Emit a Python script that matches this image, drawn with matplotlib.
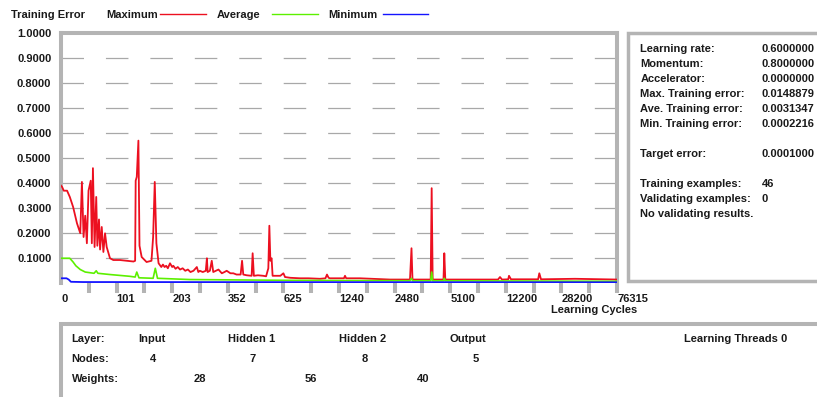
import numpy as np
import matplotlib
matplotlib.use("Agg")
import matplotlib.pyplot as plt
from matplotlib.lines import Line2D
from matplotlib.patches import Rectangle

# ---------------- data ----------------
tick_cycles = [0, 101, 203, 352, 625, 1240, 2480, 5100, 12200, 28200, 76315]
tick_labels = ["0", "101", "203", "352", "625", "1240", "2480", "5100", "12200", "28200", "76315"]

max_cycles = [0, 2, 5, 11, 16, 22, 29, 35, 38, 41, 44, 47, 50, 51, 54, 56, 58, 61, 64, 66,
              69, 71, 74, 77, 80, 83, 89, 95, 107, 120, 132, 135, 136, 138, 141, 143, 147,
              156, 165, 168, 171, 174, 178, 183, 186, 189, 192, 195, 199, 203, 206, 212,
              218, 224, 231, 238, 245, 252, 260, 269, 273, 277, 285,
              293, 296, 298, 304, 309, 313, 320, 327, 336, 343, 349, 365, 379, 395, 415, 422,
              428, 445, 469, 474, 480, 500, 526, 540, 551, 556, 561, 567, 572, 592, 610, 625,
              643, 700, 809, 900, 1030, 1090, 1107, 1125, 1140, 1250, 1350, 1374, 1400, 1441,
              1708, 2000, 2377, 3205, 3276, 3323, 4180, 4227, 4274, 4784, 4822, 4869,
              7628, 11200, 11460, 11716, 12900, 13121, 13697, 21500, 21842, 22331, 40000,
              76315]
max_error = [0.39, 0.385, 0.37, 0.37, 0.345, 0.305, 0.24, 0.20, 0.405, 0.185, 0.27, 0.16,
             0.37, 0.38, 0.41, 0.16, 0.46, 0.145, 0.345, 0.15, 0.255, 0.135, 0.225, 0.125,
             0.20, 0.145, 0.10, 0.093, 0.093, 0.09, 0.087, 0.09, 0.41, 0.425, 0.57, 0.15,
             0.105, 0.085, 0.09, 0.185, 0.405, 0.16, 0.08, 0.065, 0.075, 0.065, 0.07, 0.06,
             0.08, 0.065, 0.07, 0.058, 0.065, 0.055, 0.06, 0.05, 0.055, 0.045, 0.05, 0.065,
             0.045, 0.05, 0.045,
             0.05, 0.10, 0.045, 0.05, 0.09, 0.045, 0.05, 0.055, 0.04, 0.045, 0.05, 0.04,
             0.04, 0.035, 0.035, 0.09, 0.035, 0.032, 0.03, 0.12, 0.03, 0.032, 0.03, 0.028,
             0.06, 0.23, 0.09, 0.10, 0.03, 0.03, 0.03, 0.04, 0.025, 0.022, 0.02, 0.02,
             0.018, 0.02, 0.035, 0.022, 0.02, 0.02, 0.02, 0.03, 0.02, 0.02, 0.02, 0.018,
             0.015, 0.015, 0.14, 0.015, 0.015, 0.38, 0.015, 0.015, 0.12, 0.015, 0.015,
             0.015, 0.025, 0.015, 0.016, 0.03, 0.016, 0.016, 0.04, 0.016, 0.018, 0.015]

avg_cycles = [0, 16, 22, 27, 35, 44, 60, 64, 67, 89, 125, 135, 138, 142, 168, 172, 176,
              250, 625, 3200, 3276, 3330, 4180, 4227, 4274, 4800, 4822, 4870, 76315]
avg_error = [0.10, 0.10, 0.085, 0.07, 0.055, 0.045, 0.04, 0.05, 0.04, 0.035, 0.028, 0.025,
             0.045, 0.022, 0.02, 0.06, 0.02, 0.015, 0.012, 0.01, 0.02, 0.01, 0.01, 0.045,
             0.01, 0.01, 0.02, 0.01, 0.008]

min_cycles = [0, 10, 14, 18, 40, 76315]
min_error = [0.02, 0.02, 0.015, 0.006, 0.005, 0.004]

y_ticks = [0.1, 0.2, 0.3, 0.4, 0.5, 0.6, 0.7, 0.8, 0.9, 1.0]

params_labels = ["Learning rate:", "Momentum:", "Accelerator:", "Max. Training error:",
                 "Ave. Training error:", "Min. Training error:", "Target error:",
                 "Training examples:", "Validating examples:", "No validating results."]
params_values = ["0.6000000", "0.8000000", "0.0000000", "0.0148879", "0.0031347",
                 "0.0002216", "0.0001000", "46", "0", ""]

layer_names = ["Input", "Hidden 1", "Hidden 2", "Output"]
layer_nodes = ["4", "7", "8", "5"]
layer_weights = ["28", "56", "40"]

# ---------------- style ----------------
plt.rcParams['font.family'] = ['Liberation Sans', 'DejaVu Sans']
plt.rcParams['font.weight'] = 'bold'
plt.rcParams['lines.scale_dashes'] = False
W, H = 817, 397
GRAY = '#b4b4b4'
TXT = '#1a1a1a'
FS = 8
RED, GREEN, BLUE = '#ec1020', '#5cf000', '#1414ff'

fig = plt.figure(figsize=(W / 100, H / 100), dpi=100)
fig.patch.set_facecolor('white')

def fx(px):
    return px / W

def fy(py):
    return 1 - py / H

def label(px, py_base, s):
    fig.text(fx(px), fy(py_base), s, ha='left', va='baseline', fontsize=FS, color=TXT)

idx = np.arange(len(tick_cycles), dtype=float)

def fwd(x):
    return np.interp(x, tick_cycles, idx)

def inv(s):
    return np.interp(s, idx, tick_cycles)

ax = fig.add_axes([fx(61), fy(283.3), fx(617) - fx(61), fy(33) - fy(283.3)])
ax.set_xscale('function', functions=(fwd, inv))
ax.set_xlim(0, 76315)
ax.set_ylim(0, 1)

ax.plot(max_cycles, max_error, color=RED, lw=1.3, zorder=3)
ax.plot(avg_cycles, avg_error, color=GREEN, lw=1.2, zorder=4)
ax.plot(min_cycles, min_error, color=BLUE, lw=1.3, zorder=5)

# frame
for s in ['top', 'left', 'right']:
    ax.spines[s].set_color(GRAY)
    ax.spines[s].set_linewidth(2.9)
    ax.spines[s].set_capstyle('projecting')
ax.spines['bottom'].set_visible(False)

# y axis
ax.set_yticks(y_ticks)
ax.set_yticklabels([f"{v:.4f}" for v in y_ticks])
ax.tick_params(axis='y', length=0, pad=7, labelsize=FS, labelcolor=TXT)
ax.grid(axis='y', color='#a8a8a8', lw=0.9, linestyle=(0, (16.2, 15.8)))
ax.set_axisbelow(True)

# x axis
ax.xaxis.remove_overlapping_locs = False
ax.set_xticks(tick_cycles)
ax.set_xticklabels(tick_labels)
for lab in ax.get_xticklabels():
    lab.set_horizontalalignment('left')
half = inv(np.arange(0.5, 10.01, 0.5))
ax.set_xticks(half, minor=True)
ax.tick_params(axis='x', which='major', length=0, pad=8, labelsize=FS, labelcolor=TXT)
ax.tick_params(axis='x', which='minor', length=7.5, width=2.9, color=GRAY, direction='out')

fig.text(fx(637), fy(313), "Learning Cycles", ha='right', va='baseline', fontsize=FS, color=TXT)

# header legend
label(11, 18, "Training Error")
legend_items = [("Maximum", 106, 160, 206, RED),
                ("Average", 217, 272, 318, GREEN),
                ("Minimum", 328, 383, 428, BLUE)]
for name, tx, l0, l1, c in legend_items:
    label(tx, 18, name)
    fig.add_artist(Line2D([fx(l0), fx(l1)], [fy(14), fy(14)], color=c, lw=1.0,
                          transform=fig.transFigure))

# right panel
fig.add_artist(Rectangle((fx(628), fy(281)), fx(830) - fx(628), fy(33) - fy(281),
                         transform=fig.transFigure, facecolor='white', edgecolor=GRAY,
                         lw=2.5, clip_on=False))
row_base = [52, 67, 82, 97, 112, 127, 157, 187, 202, 217]
for lbl, val, yy in zip(params_labels, params_values, row_base):
    label(640.5, yy, lbl)
    if val:
        label(761.5, yy, val)

# bottom panel
fig.add_artist(Rectangle((fx(60.5), fy(410)), fx(830) - fx(60.5), fy(323.5) - fy(410),
                         transform=fig.transFigure, facecolor='white', edgecolor=GRAY,
                         lw=2.9, clip_on=False))
label(71.5, 342, "Layer:")
label(71.5, 362, "Nodes:")
label(71.5, 382, "Weights:")
for name, xx in zip(layer_names, [138.5, 227.6, 339, 450]):
    label(xx, 342, name)
for n, xx in zip(layer_nodes, [150, 250, 362, 472.4]):
    label(xx, 362, n)
for w, xx in zip(layer_weights, [193.7, 304.7, 416.7]):
    label(xx, 382, w)
label(684, 342, "Learning Threads 0")

fig.savefig("out.png", dpi=100, facecolor='white')
